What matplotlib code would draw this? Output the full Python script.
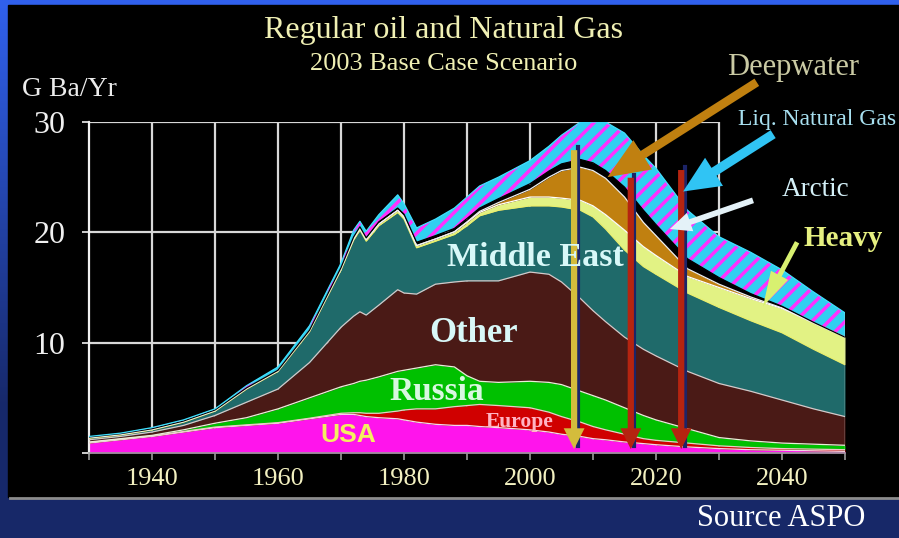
import numpy as np
import matplotlib.pyplot as plt
from matplotlib.patches import Rectangle

plt.rcParams['hatch.linewidth'] = 2.5

years = [1930, 1935, 1940, 1945, 1950, 1955, 1960, 1965, 1970, 1972, 1973, 1974,
         1976, 1979, 1980, 1982, 1985, 1988, 1990, 1992, 1995, 2000, 2003, 2005,
         2008, 2010, 2012, 2015, 2018, 2020, 2025, 2030, 2035, 2040, 2045, 2050]

# layer thickness, Gb/yr
usa = [0.9, 1.2, 1.5, 1.9, 2.3, 2.5, 2.7, 3.1, 3.5, 3.5, 3.4, 3.3,
       3.2, 3.1, 3.0, 2.8, 2.6, 2.5, 2.5, 2.4, 2.3, 2.1, 1.9, 1.7,
       1.5, 1.3, 1.2, 1.0, 0.85, 0.75, 0.55, 0.4, 0.3, 0.25, 0.2, 0.15]
europe = [0.05, 0.05, 0.05, 0.05, 0.05, 0.05, 0.05, 0.05, 0.1, 0.15, 0.25, 0.3,
          0.4, 0.7, 0.9, 1.2, 1.4, 1.7, 1.8, 2.0, 2.0, 2.0, 1.8, 1.6,
          1.3, 1.1, 0.9, 0.7, 0.45, 0.4, 0.35, 0.25, 0.2, 0.15, 0.15, 0.15]
russia = [0.05, 0.05, 0.05, 0.15, 0.35, 0.65, 1.25, 1.85, 2.4, 2.65, 2.85, 3.0,
          3.3, 3.6, 3.6, 3.7, 4.0, 3.6, 2.7, 2.1, 2.1, 2.4, 2.7, 2.9,
          2.8, 2.8, 2.7, 2.4, 2.1, 1.85, 1.3, 0.75, 0.6, 0.5, 0.45, 0.4]
other = [0.2, 0.2, 0.3, 0.4, 0.7, 1.4, 1.8, 3.2, 5.4, 6.1, 6.3, 5.9,
         6.5, 7.4, 7.0, 6.7, 7.3, 7.7, 8.6, 9.1, 9.2, 9.9, 9.8, 9.3,
         8.4, 7.7, 7.1, 6.4, 6.0, 5.8, 5.2, 4.9, 4.5, 3.9, 3.2, 2.6]
mideast = [0.15, 0.15, 0.2, 0.3, 0.4, 1.2, 1.6, 2.8, 5.2, 6.9, 7.4, 6.7,
           7.2, 7.0, 6.7, 4.2, 3.9, 4.3, 5.0, 5.9, 6.4, 6.0, 6.2, 6.8,
           8.0, 8.5, 8.4, 7.9, 7.5, 7.4, 7.1, 6.9, 6.4, 6.1, 5.4, 4.7]
heavy = [0.05, 0.05, 0.05, 0.05, 0.05, 0.05, 0.05, 0.08, 0.1, 0.12, 0.15, 0.15,
         0.15, 0.2, 0.2, 0.2, 0.2, 0.25, 0.3, 0.3, 0.5, 0.8, 0.8, 0.8,
         0.9, 1.0, 1.3, 1.8, 1.8, 1.7, 1.5, 1.8, 2.0, 2.2, 2.4, 2.5]
deepwater = [0, 0, 0, 0, 0, 0, 0, 0, 0, 0, 0, 0,
             0, 0, 0, 0, 0, 0, 0.05, 0.1, 0.2, 0.7, 1.8, 2.5,
             3.0, 3.2, 3.3, 3.0, 2.2, 1.8, 0.7, 0.3, 0.15, 0.05, 0, 0]
arctic = [0.05, 0.05, 0.05, 0.05, 0.05, 0.05, 0.05, 0.05, 0.1, 0.15, 0.15, 0.15,
          0.2, 0.2, 0.25, 0.3, 0.3, 0.3, 0.3, 0.3, 0.35, 0.5, 0.55, 0.6,
          0.7, 0.7, 0.7, 0.9, 1.1, 1.0, 0.9, 0.6, 0.3, 0.15, 0.05, 0]
lng = [0.05, 0.05, 0.1, 0.1, 0.1, 0.2, 0.3, 0.4, 0.4, 0.63, 0.5, 0.6,
       0.65, 1.2, 0.95, 1.3, 1.5, 1.85, 1.95, 2.0, 1.95, 2.1, 2.25, 2.6,
       3.4, 3.7, 4.4, 4.9, 5.0, 5.1, 4.4, 3.7, 3.75, 3.3, 2.75, 2.2]

layers = [usa, europe, russia, other, mideast, heavy, deepwater, arctic, lng]
colors = ['#ff14ec', '#d00000', '#00c000', '#4a1a16', '#1f6a6a',
          '#e2f284', '#c08010', '#000000', '#30d0f0']
edges = ['#f4d8e8', '#f0c8c8', '#e8f0d8', '#d8c8c8', '#e8f070',
         '#ffffff', '#f0f0f0', '#000000', '#40e0ff']

# vertical markers (year, top value)
mark_years = [2007, 2016, 2024]
mark_tops = [27.7, 25.2, 25.9]
mark_cols = ['#d4bc3c', '#b52410', '#b52410']

W, H = 899, 538
fig = plt.figure(figsize=(W / 100, H / 100), dpi=100)
fig.patch.set_facecolor('#182a6a')

bg = fig.add_axes([0, 0, 1, 1])
grad = np.linspace(0, 1, 256).reshape(-1, 1)
top_c = np.array([0.19, 0.38, 0.93])
bot_c = np.array([0.09, 0.16, 0.42])
t = np.clip(grad / 0.75, 0, 1)
img = top_c * (1 - t[..., None]) + bot_c * t[..., None]
bg.imshow(img, aspect='auto', extent=[0, 1, 0, 1])
bg.add_patch(Rectangle((0, 0), 1, 1 - 498 / H, color='#172868'))
bg.add_patch(Rectangle((8 / W, 1 - 497 / H), 1, (497 - 5) / H, color='black'))
bg.plot([10 / W, 1], [1 - 498 / H] * 2, color='#8c8c8c', lw=2)
bg.set_xlim(0, 1)
bg.set_ylim(0, 1)
bg.axis('off')

ax = fig.add_axes([89 / W, 1 - 453 / H, (845 - 89) / W, (453 - 122) / H])
ax.set_facecolor('none')

# grid box
ax.hlines([10, 20, 30], 1930, 2030, color='#d8d8d8', lw=1.6, zorder=0)
ax.vlines(range(1940, 2031, 10), 0, 30, color='#d8d8d8', lw=1.6, zorder=0)

cum = np.cumsum(np.array(layers), axis=0)
base = np.zeros(len(years))
for i, top in enumerate(cum):
    if i == 8:
        ax.fill_between(years, base, top, facecolor=colors[i], edgecolor='#ff30ff',
                        hatch='//', linewidth=0, zorder=2)
    else:
        ax.fill_between(years, base, top, color=colors[i], linewidth=0, zorder=2)
    ax.plot(years, top, color=edges[i], lw=0.9, zorder=3)
    base = top
ax.plot([2050, 2050], [0, cum[-1][-1]], color='#d8d8d8', lw=1, zorder=3)

for yr, tp, c in zip(mark_years, mark_tops, mark_cols):
    ax.plot([yr + 0.55, yr + 0.55], [0.6, tp], color='#1c2468', lw=3, zorder=4)
    ax.annotate('', xy=(yr, 0.1), xytext=(yr, tp),
                arrowprops=dict(arrowstyle='simple,head_width=1.0,head_length=1.0,tail_width=0.3',
                                mutation_scale=15, color=c, lw=0), zorder=5)

def diag(tail, tip, col, ms, hw, hl, tw):
    ax.annotate('', xy=tip, xytext=tail, annotation_clip=False,
                arrowprops=dict(arrowstyle='simple,head_width=%s,head_length=%s,tail_width=%s' % (hw, hl, tw),
                                mutation_scale=ms, color=col, lw=0, shrinkA=0, shrinkB=0), zorder=6)

diag((2036.0, 33.6), (2012.3, 25.0), '#c08010', 25, 1.0, 1.2, 0.25)
diag((2038.6, 28.9), (2024.3, 23.7), '#30c4f4', 24, 1.0, 1.1, 0.28)
diag((2035.4, 22.9), (2022.2, 20.3), '#e4f2f8', 14, 1.0, 1.1, 0.3)
diag((2042.4, 19.1), (2037.0, 13.3), '#d8f070', 14, 1.0, 1.8, 0.25)

ax.set_xlim(1930, 2050)
ax.set_ylim(0, 30)
for s in ['top', 'right']:
    ax.spines[s].set_visible(False)
ax.spines['left'].set_color('#f0f0f0')
ax.spines['left'].set_linewidth(1.6)
ax.spines['bottom'].set_color('#9a9a9a')
ax.spines['bottom'].set_linewidth(1.2)
ax.set_xticks(range(1940, 2041, 20))
ax.set_xticks(range(1930, 2051, 10), minor=True)
ax.set_yticks([0, 10, 20, 30])
ax.set_yticklabels(['', '10', '20', '30'])
ax.tick_params(axis='x', which='both', colors='#9a9a9a', length=5, width=1.2,
               labelcolor='#f2f0c0', labelsize=19, pad=6)
ax.tick_params(axis='y', colors='#f0f0f0', length=5, width=1.2,
               labelcolor='#f0f0f0', labelsize=23, pad=12)
for lb in ax.get_xticklabels() + ax.get_yticklabels():
    lb.set_family('Liberation Serif')

def ftxt(x, y, s, **kw):
    fig.text(x / W, 1 - y / H, s, ha=kw.pop('ha', 'center'), va='center', **kw)

serif = 'Liberation Serif'
ftxt(444, 30, 'Regular oil and Natural Gas', color='#f0f0b4', size=23, family=serif)
ftxt(444, 64, '2003 Base Case Scenario', color='#f0f0b4', size=19, family=serif)
ftxt(22, 90, 'G Ba/Yr', ha='left', color='#ececec', size=20, family=serif)
ftxt(793, 68, 'Deepwater', color='#cacaa4', size=22, family=serif)
ftxt(817, 119, 'Liq. Natural Gas', color='#a8e0f0', size=17, family=serif)
ftxt(816, 190, 'Arctic', color='#d4f0f8', size=19.5, family=serif)
ftxt(843, 238, 'Heavy', color='#e6f080', size=21, family=serif, weight='bold')
ftxt(535, 258, 'Middle East', color='#d8f8f8', size=24.5, family=serif, weight='bold', zorder=7)
ftxt(474, 333, 'Other', color='#d8f8f8', size=25, family=serif, weight='bold')
ftxt(437, 392, 'Russia', color='#d8f8e0', size=24, family=serif, weight='bold')
ftxt(520, 422, 'Europe', color='#ffb4c4', size=15.5, family=serif, weight='bold')
ftxt(348, 435, 'USA', color='#f4f060', size=19, family='Liberation Sans', weight='bold')
ftxt(781, 518, 'Source ASPO', color='white', size=22, family=serif)

fig.savefig('out.png', dpi=100, facecolor=fig.get_facecolor())
